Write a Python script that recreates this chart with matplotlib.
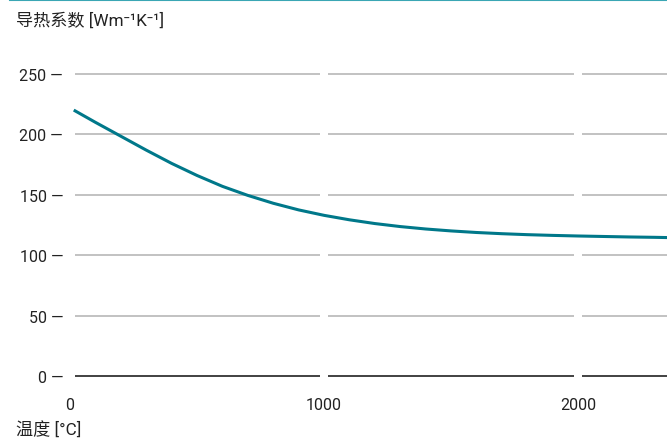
import matplotlib
matplotlib.use('Agg')
import matplotlib.pyplot as plt
from matplotlib.lines import Line2D

plt.rcParams['font.family'] = ['Roboto', 'Noto Sans CJK SC', 'DejaVu Sans']

# data
temp = [20, 100, 200, 300, 400, 500, 600, 700, 800, 900, 1000, 1100, 1200,
        1300, 1400, 1500, 1600, 1700, 1800, 1900, 2000, 2100, 2200, 2300, 2350]
conductivity = [219.5, 210, 198.5, 187, 176, 166, 157, 149.5, 143, 137.5, 133,
                129.3, 126.2, 123.7, 121.7, 120.1, 118.8, 117.8, 117.0, 116.4,
                115.9, 115.5, 115.1, 114.8, 114.6]
xticks = [0, 1000, 2000]
yticks = [0, 50, 100, 150, 200, 250]
ylabel = '导热系数 [Wm⁻¹K⁻¹]'
xlabel = '温度 [°C]'

xmax = 2350
gap = 16

fig = plt.figure(figsize=(6.67, 4.39), dpi=100)
ax = fig.add_axes([70 / 667, 62 / 439, 1 - 70 / 667, (377 - 75) / 439])
ax.set_xlim(0, xmax)
ax.set_ylim(0, 250)

# segmented gridlines, broken at the x ticks
edges = [0] + xticks[1:] + [xmax]
for i in range(len(edges) - 1):
    x0 = edges[i] + (gap if i > 0 else temp[0])
    x1 = edges[i + 1] - (gap if i + 1 < len(edges) - 1 else 0)
    for y in yticks:
        col = '#333333' if y == 0 else '#bdbdbd'
        ax.plot([x0, x1], [y, y], color=col, lw=1.3, solid_capstyle='butt',
                zorder=1, clip_on=False)

ax.plot(temp, conductivity, color='#00788a', lw=2.2, zorder=3, clip_on=False,
        solid_joinstyle='round')

for s in ax.spines.values():
    s.set_visible(False)
ax.set_xticks(xticks)
ax.set_xticklabels([str(t) for t in xticks])
ax.set_yticks(yticks)
ax.set_yticklabels([f'{t} —' for t in yticks])
ax.tick_params(axis='both', length=0, labelsize=11.5, colors='#222222')
ax.tick_params(axis='y', pad=5)
ax.tick_params(axis='x', pad=15)

fig.text(16 / 667, 1 - 21 / 439, ylabel, fontsize=12.3, color='#222222',
         va='center', ha='left')
fig.text(16 / 667, 1 - 430 / 439, xlabel, fontsize=12.3, color='#222222',
         va='center', ha='left')

fig.add_artist(Line2D([10 / 667, 1], [1 - 0.8 / 439, 1 - 0.8 / 439],
                      transform=fig.transFigure, color='#3aa6b4', lw=1.5))

fig.savefig('out.png', dpi=100)
